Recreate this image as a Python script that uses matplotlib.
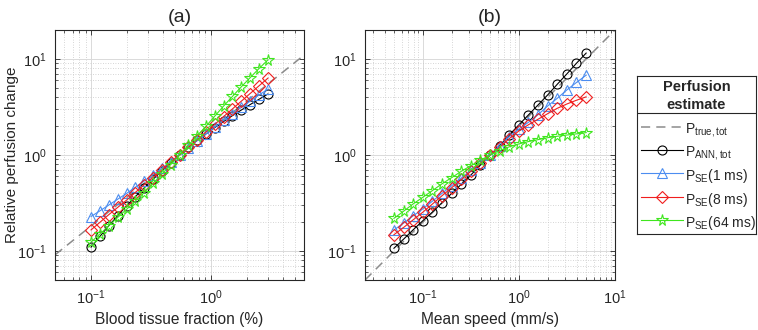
import numpy as np
import matplotlib
matplotlib.use("Agg")
import matplotlib.pyplot as plt
from matplotlib.lines import Line2D
from matplotlib.ticker import LogLocator, NullFormatter

plt.rcParams['font.family'] = ['Liberation Sans', 'DejaVu Sans']
plt.rcParams['mathtext.fontset'] = 'custom'
plt.rcParams['mathtext.rm'] = 'Liberation Sans'
plt.rcParams['mathtext.it'] = 'Liberation Sans:italic'
plt.rcParams['mathtext.bf'] = 'Liberation Sans:bold'

# ---------------- data ----------------
# Panel (a): blood tissue fraction (%)
x_a = [0.100, 0.119, 0.141, 0.167, 0.198, 0.234, 0.278, 0.329, 0.390, 0.462,
       0.548, 0.649, 0.769, 0.912, 1.080, 1.280, 1.517, 1.798, 2.131, 2.526, 3.000]
ann_a = [0.110, 0.143, 0.184, 0.234, 0.295, 0.368, 0.455, 0.558, 0.681, 0.826,
         1.000, 1.197, 1.416, 1.660, 1.932, 2.234, 2.570, 2.938, 3.350, 3.800, 4.315]
se1_a = [0.229, 0.263, 0.302, 0.347, 0.398, 0.462, 0.537, 0.624, 0.724, 0.851,
         1.000, 1.189, 1.413, 1.660, 1.950, 2.291, 2.692, 3.126, 3.631, 4.217, 4.842]
se8_a = [0.166, 0.200, 0.240, 0.285, 0.339, 0.407, 0.490, 0.582, 0.700, 0.836,
         1.000, 1.202, 1.445, 1.738, 2.089, 2.512, 3.020, 3.631, 4.365, 5.248, 6.310]
se64_a = [0.124, 0.151, 0.184, 0.224, 0.272, 0.331, 0.407, 0.507, 0.631, 0.794,
          1.000, 1.259, 1.585, 1.995, 2.541, 3.236, 4.074, 5.129, 6.383, 7.943, 9.772]
true_a_x = [0.05, 6.0]
true_a_y = [0.0913, 10.95]

# Panel (b): mean speed (mm/s)
x_b = [0.050, 0.063, 0.079, 0.100, 0.126, 0.158, 0.200, 0.251, 0.316, 0.398,
       0.500, 0.629, 0.792, 0.998, 1.256, 1.581, 1.991, 2.506, 3.155, 3.972, 5.000]
ann_b = [0.107, 0.133, 0.166, 0.207, 0.255, 0.318, 0.399, 0.495, 0.619, 0.787,
         1.000, 1.242, 1.614, 2.056, 2.612, 3.319, 4.217, 5.445, 6.982, 9.016, 11.48]
se1_b = [0.166, 0.195, 0.232, 0.275, 0.331, 0.398, 0.479, 0.575, 0.692, 0.832,
         1.000, 1.230, 1.549, 1.862, 2.188, 2.630, 3.236, 3.890, 4.753, 5.689, 6.761]
se8_b = [0.148, 0.176, 0.211, 0.254, 0.309, 0.376, 0.457, 0.556, 0.676, 0.822,
         1.000, 1.202, 1.479, 1.778, 2.065, 2.355, 2.692, 3.062, 3.396, 3.715, 4.027]
se64_b = [0.219, 0.260, 0.309, 0.363, 0.427, 0.501, 0.582, 0.676, 0.776, 0.881,
          1.000, 1.109, 1.216, 1.303, 1.380, 1.445, 1.514, 1.567, 1.614, 1.660, 1.710]
true_b_x = [0.025, 10.0]
true_b_y = [0.05, 20.0]

# ---------------- styles ----------------
C_BLUE = '#4C8DF0'
C_RED = '#F01E1E'
C_GREEN = '#3FE61E'
C_GRAY = '#8C8C8C'
ms = 6.5
lw = 0.8
s_true = dict(color=C_GRAY, lw=1.1, ls=(0, (6, 4)))
s_ann = dict(color='k', lw=lw, marker='o', ms=ms, mfc='none', mew=0.8)
s_se1 = dict(color=C_BLUE, lw=lw, marker='^', ms=ms + 0.5, mfc='none', mew=0.8)
s_se8 = dict(color=C_RED, lw=lw, marker='D', ms=ms - 0.8, mfc='none', mew=0.8)
s_se64 = dict(color=C_GREEN, lw=lw, marker='*', ms=ms + 2.0, mfc='none', mew=0.8)

W, H = 758, 330
fig = plt.figure(figsize=(W / 100, H / 100), dpi=100)

ax_a = fig.add_axes([55 / W, 1 - 280 / H, 249 / W, 250 / H])
ax_b = fig.add_axes([365 / W, 1 - 280 / H, 250 / W, 250 / H])

FS = 10
TXT = '#262626'


def style(ax, xlim, ylim, xlabel, title):
    ax.set_xscale('log')
    ax.set_yscale('log')
    ax.set_xlim(*xlim)
    ax.set_ylim(*ylim)
    ax.xaxis.set_major_locator(LogLocator(base=10, numticks=10))
    ax.yaxis.set_major_locator(LogLocator(base=10, numticks=10))
    ax.xaxis.set_minor_locator(LogLocator(base=10, subs=np.arange(2, 10), numticks=20))
    ax.yaxis.set_minor_locator(LogLocator(base=10, subs=np.arange(2, 10), numticks=20))
    ax.xaxis.set_minor_formatter(NullFormatter())
    ax.yaxis.set_minor_formatter(NullFormatter())
    ax.grid(True, which='major', color='#DADADA', lw=0.7, ls='-')
    ax.grid(True, which='minor', color='#C8C8C8', lw=0.6, ls=(0, (1, 2)))
    ax.set_axisbelow(True)
    ax.tick_params(which='both', direction='in', top=True, right=True,
                   labelsize=FS + 0.5, colors=TXT)
    ax.tick_params(which='major', length=3.5, width=0.6, pad=6)
    ax.tick_params(which='minor', length=2, width=0.5)
    for sp in ax.spines.values():
        sp.set_color(TXT)
        sp.set_linewidth(0.8)
    ax.set_xlabel(xlabel, fontsize=FS + 1.2, color=TXT, labelpad=4)
    ax.set_title(title, fontsize=FS + 4, color=TXT, pad=6)


ax_a.plot(true_a_x, true_a_y, **s_true)
ax_a.plot(x_a, ann_a, **s_ann)
ax_a.plot(x_a, se1_a, **s_se1)
ax_a.plot(x_a, se8_a, **s_se8)
ax_a.plot(x_a, se64_a, **s_se64)
style(ax_a, (0.05, 6.0), (0.05, 20), 'Blood tissue fraction (%)', '(a)')
ax_a.set_ylabel('Relative perfusion change', fontsize=FS + 1.0, color=TXT)
ax_a.yaxis.set_label_coords(-0.145, 0.5)

ax_b.plot(true_b_x, true_b_y, **s_true)
ax_b.plot(x_b, ann_b, **s_ann)
ax_b.plot(x_b, se1_b, **s_se1)
ax_b.plot(x_b, se8_b, **s_se8)
ax_b.plot(x_b, se64_b, **s_se64)
style(ax_b, (0.025, 10), (0.05, 20), 'Mean speed (mm/s)', '(b)')

# ---------------- legend (MATLAB-style, with title separator) ----------------
lx0, lx1, ly0, ly1 = 637, 756, 76, 234
ax_l = fig.add_axes([lx0 / W, 1 - ly1 / H, (lx1 - lx0) / W, (ly1 - ly0) / H])
ax_l.set_xlim(0, 1)
ax_l.set_ylim(0, 1)
ax_l.set_xticks([])
ax_l.set_yticks([])
for sp in ax_l.spines.values():
    sp.set_color(TXT)
    sp.set_linewidth(0.8)
ax_l.text(0.5, 0.875, 'Perfusion\nestimate', ha='center', va='center',
          fontsize=FS + 0.5, fontweight='bold', linespacing=1.4, color=TXT)
ax_l.axhline(0.763, color=TXT, lw=0.8)

labels = [r'P$_{\mathregular{true,tot}}$', r'P$_{\mathregular{ANN,tot}}$',
          r'P$_{\mathregular{SE}}$(1 ms)', r'P$_{\mathregular{SE}}$(8 ms)',
          r'P$_{\mathregular{SE}}$(64 ms)']
styles = [s_true, s_ann, s_se1, s_se8, s_se64]
ys = [0.68, 0.532, 0.385, 0.237, 0.09]
for lab, st, yy in zip(labels, styles, ys):
    st2 = dict(st)
    st2.pop('marker', None)
    ax_l.add_line(Line2D([0.03, 0.385], [yy, yy], **st2))
    if 'marker' in st:
        ax_l.add_line(Line2D([0.21], [yy], ls='none', marker=st['marker'], ms=st['ms'],
                             mfc='none', mec=st['color'], mew=st['mew']))
    ax_l.text(0.40, yy - 0.02, lab, ha='left', va='center', fontsize=FS, color=TXT)

fig.savefig('out.png', dpi=100)
